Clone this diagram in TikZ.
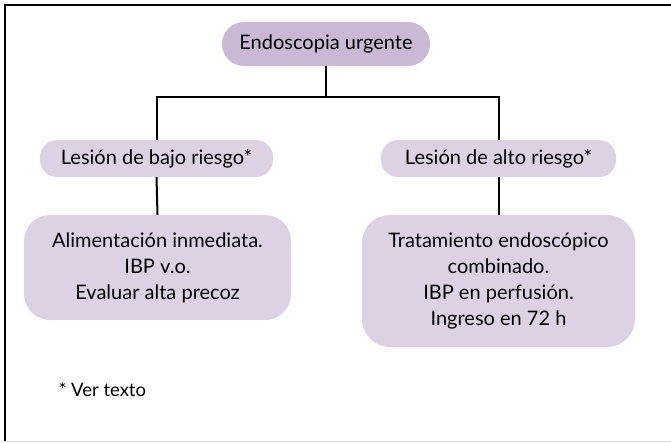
\documentclass[tikz,border=0pt]{standalone}
\usepackage{fontspec}
\setmainfont{Lato}
\usepackage{xcolor}
\usepackage{tikz}
\usetikzlibrary{positioning}
\definecolor{topfill}{HTML}{C9B9D4}
\definecolor{boxfill}{HTML}{DDD1E4}

\begin{document}
\begin{tikzpicture}[
    x=1pt, y=-1pt,
    box/.style={rectangle, rounded corners=18pt, fill=boxfill, align=center, inner sep=0pt, font=\fontsize{20}{26}\selectfont},
    link/.style={line width=2pt, black}
]
    \useasboundingbox (0,0) rectangle (671,442);
    % Frame
    \draw[line width=1.5pt] (671,5) -- (5,5) -- (5,441);
    \draw[black!12, line width=1pt] (5,441) -- (671,441);

    % Nodes
    \node[box, fill=topfill, rounded corners=22pt, minimum width=208pt, minimum height=44pt] (endo) at (326,44) {Endoscopia urgente};
    \node[box, rounded corners=17pt, minimum width=233pt, minimum height=37pt] (bajo) at (156.5,158.5) {Lesión de bajo riesgo*};
    \node[box, rounded corners=17pt, minimum width=235pt, minimum height=37pt] (alto) at (498.5,158.5) {Lesión de alto riesgo*};
    \node[box, rounded corners=26pt, minimum width=267pt, minimum height=105pt] (alim) at (157.5,267.5) {Alimentación inmediata.\\IBP v.o.\\Evaluar alta precoz};
    \node[box, rounded corners=28pt, minimum width=273pt, minimum height=132pt] (trat) at (498.5,281) {Tratamiento endoscópico\\combinado.\\IBP en perfusión.\\Ingreso en 72 h};
    \node[anchor=west, font=\fontsize{18.5}{22}\selectfont] (nota) at (55,390) {* Ver texto};

    % Lines
    \draw[link] (endo.south) -- ++(0,31) coordinate (split);
    \draw[link] (bajo.north) |- (split) -| (alto.north);
    \draw[link] (bajo.south) -- (alim.north);
    \draw[link] (alto.south) -- (trat.north);
\end{tikzpicture}
\end{document}
